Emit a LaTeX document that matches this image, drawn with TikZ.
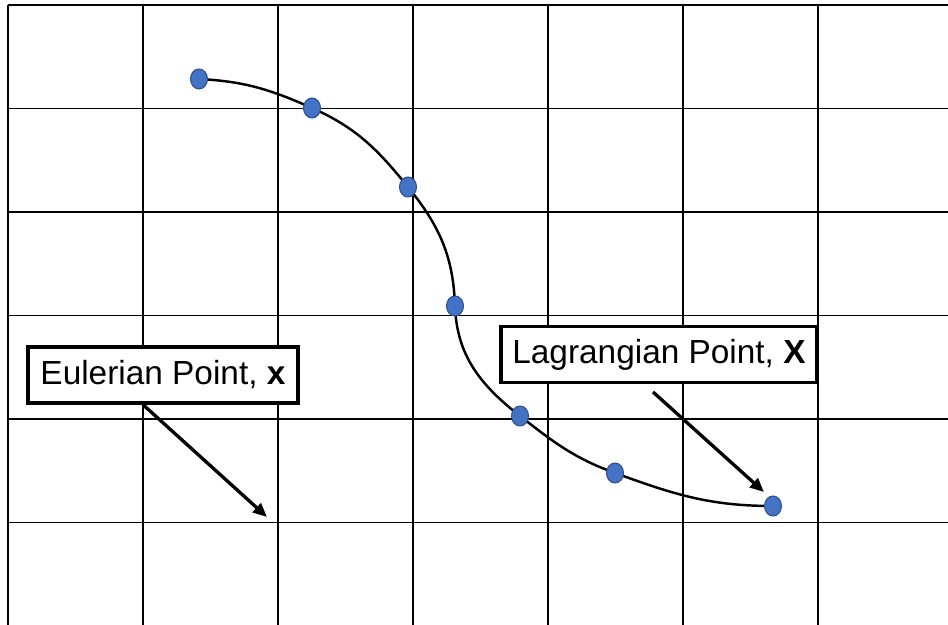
\documentclass[tikz,border=0pt]{standalone}
\usepackage{fontspec}
\setsansfont{Liberation Sans}
\usetikzlibrary{arrows.meta,shapes.geometric}
\definecolor{dotblue}{HTML}{4472C4}
\definecolor{dotrim}{HTML}{2F528F}

\begin{document}
\begin{tikzpicture}[
    font=\sffamily,
    gridline/.style={black, line width=1.1pt},
    track/.style={black, line width=1.4pt},
    particle/.style={ellipse, draw=dotrim, line width=0.6pt, fill=dotblue,
                     minimum width=3.4mm, minimum height=4mm, inner sep=0pt},
    callout/.style={draw=black, line width=1.9pt, fill=white, minimum height=1.12cm,
                    inner sep=2pt, font=\sffamily\fontsize{19}{23}\selectfont},
    pointer/.style={black, line width=1.9pt, -{Triangle[length=2.8mm, width=2.4mm]}},
]
\useasboundingbox (0,0) rectangle (18.96,12.5);

% ---- Eulerian grid ----
\foreach \i in {0,...,6} { \draw[gridline] ({0.16+2.7*\i},0) -- ({0.16+2.7*\i},12.4); }
\foreach \j in {0,...,5} { \draw[gridline] (0.16,{12.4-2.07*\j}) -- (18.96,{12.4-2.07*\j}); }

% ---- particle path ----
\foreach \x/\y [count=\k] in {3.98/10.92, 6.24/10.34, 8.16/8.76, 9.10/6.38,
                              10.40/4.18, 12.30/3.04, 15.46/2.38} {
    \coordinate (P\k) at (\x,\y);
}
\draw[track] (P1) to[out=-3,in=156] (P2) to[out=-24,in=129] (P3)
    to[out=-51,in=92] (P4) to[out=-88,in=142] (P5)
    to[out=-38,in=160] (P6) to[out=-20,in=180] (P7);
\foreach \k in {1,...,7} { \node[particle] (dot\k) at (P\k) {}; }

% ---- labels ----
\node[callout, minimum width=5.4cm] (euler) at (3.26,5.0) {Eulerian Point, \textbf{x}};
\node[callout, minimum width=6.32cm] (lagrange) at (13.18,5.41) {Lagrangian Point, \textbf{X}};

\coordinate (eulertip) at (5.34,2.16);
\draw[pointer] ([xshift=-4mm]euler.south) -- (eulertip);
\coordinate (lagtail) at (13.06,4.66);
\coordinate (lagtip) at (15.28,2.66);
\draw[pointer] (lagtail) -- (lagtip);
\end{tikzpicture}
\end{document}
